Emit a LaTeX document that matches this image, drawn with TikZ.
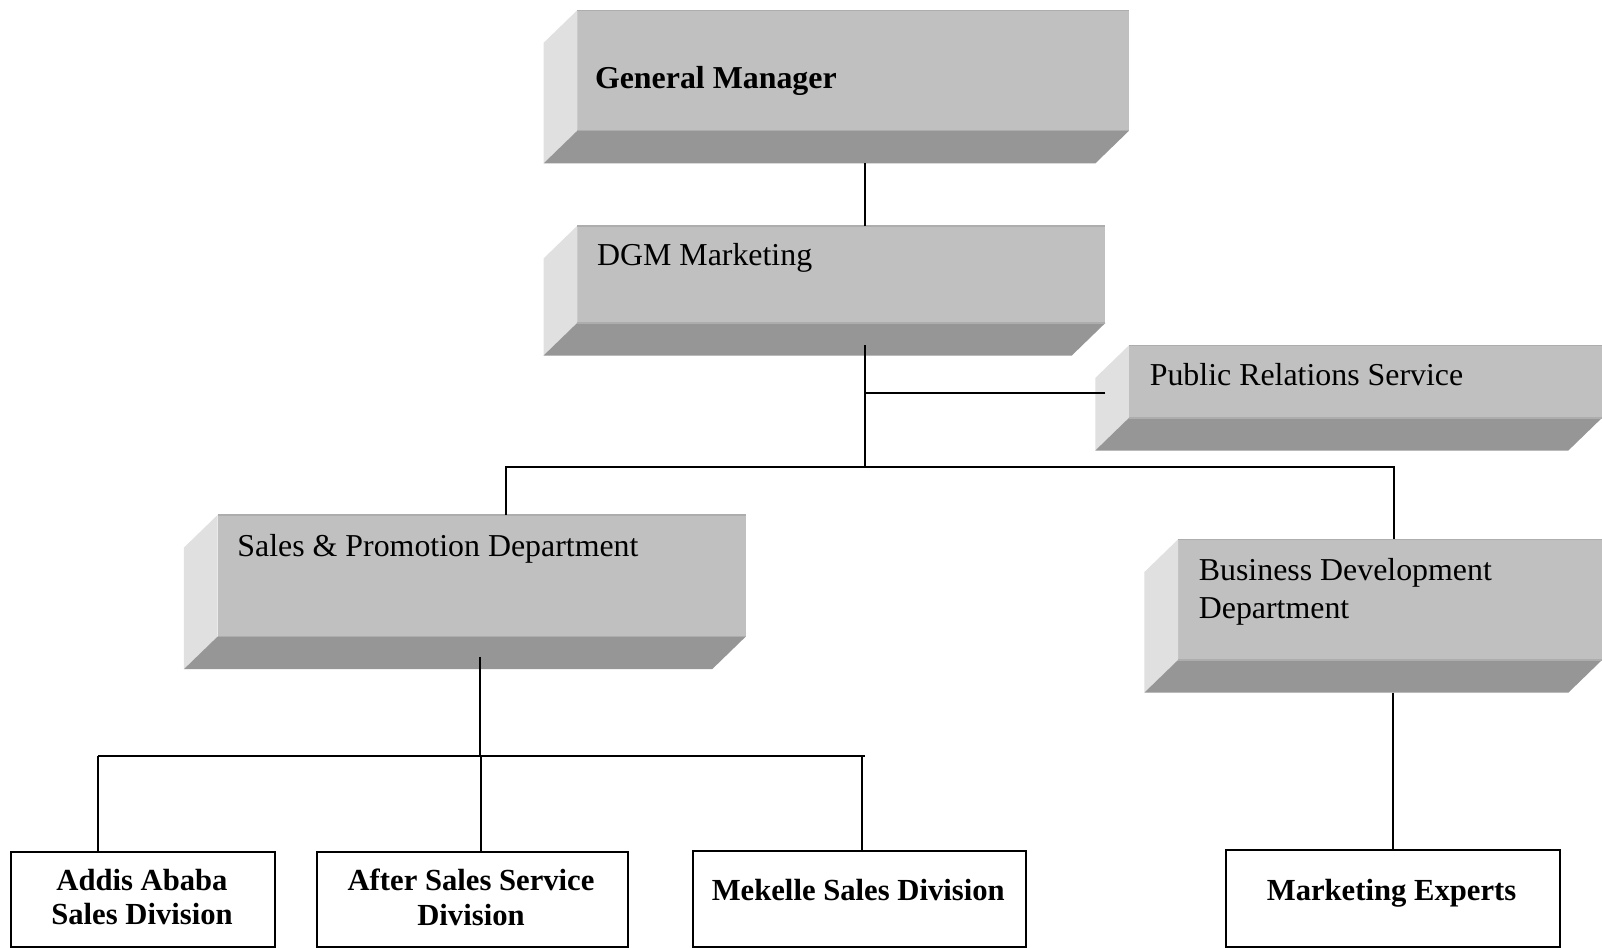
\documentclass[tikz,border=0pt]{standalone}
\usepackage{fontspec}
\setmainfont{Liberation Serif}
\usetikzlibrary{calc}

\definecolor{facefront}{HTML}{C0C0C0}
\definecolor{faceside}{HTML}{E0E0E0}
\definecolor{facebottom}{HTML}{969696}
\definecolor{faceedge}{HTML}{ADADAD}

\begin{document}
\begin{tikzpicture}[x=0.5pt,y=-0.5pt,
  % a bar drawn in relief: front face, light left face, dark bottom face
  prism/.style={shape=rectangle, inner sep=0pt, outer sep=0pt, anchor=north west,
    path picture={
      \coordinate (pNW) at (path picture bounding box.north west);
      \coordinate (pSE) at (path picture bounding box.south east);
      \coordinate (pSW) at (path picture bounding box.south west);
      \fill[facefront] ([xshift=16.5pt]pNW) rectangle ([yshift=16pt]pSE);
      \fill[faceside] ([xshift=16.5pt]pNW) -- ([xshift=16.5pt,yshift=16pt]pSW)
        -- (pSW) -- ([yshift=-16pt]pNW) -- cycle;
      \fill[facebottom] ([xshift=16.5pt,yshift=16pt]pSW) -- ([yshift=16pt]pSE)
        -- ([xshift=-16.5pt]pSE) -- (pSW) -- cycle;
      \draw[faceedge, line width=0.7pt] ([xshift=16.5pt]pNW) -- (pNW -| pSE);
      \draw[faceedge, line width=0.7pt] ([xshift=16.5pt,yshift=16pt]pSW) -- ([yshift=16pt]pSE);
    }},
  prismtext/.style={inner sep=0pt, anchor=base west,
    font=\fontsize{15.6pt}{18.5pt}\selectfont},
  unitbox/.style={draw=black, line width=1pt, fill=white, anchor=north west,
    inner sep=0pt},
  unittext/.style={inner sep=0pt, align=center,
    font=\fontsize{15pt}{17pt}\selectfont\bfseries},
  conn/.style={draw=black, line width=1pt}
]
\fill[white] (0,0) rectangle (1568,927);
\useasboundingbox (0,0) rectangle (1568,927);

% management bars
\node[prism, minimum width=286.5pt, minimum height=75pt]   (gm)  at (532,10)  {};
\node[prism, minimum width=275pt,   minimum height=63.5pt] (dgm) at (532,221) {};
\node[prism, minimum width=248pt,   minimum height=51.5pt] (pr)  at (1072,338) {};
\node[prism, minimum width=275pt,   minimum height=75.5pt] (sp)  at (180,504) {};
\node[prism, minimum width=224pt,   minimum height=75pt]   (bd)  at (1120,528) {};

\node[prismtext, font=\fontsize{15.6pt}{18.5pt}\selectfont\bfseries] (gmT) at (582,87) {General Manager};
\node[prismtext] (dgmT) at (584,260) {DGM Marketing};
\node[prismtext] (prT)  at (1125,377) {Public Relations Service};
\node[prismtext] (spT)  at (232,545) {Sales \& Promotion Department};
\node[prismtext, anchor=north west, align=left] (bdT) at (1173,546.5)
  {Business Development\\Department};

% division boxes
\node[unitbox, minimum width=129pt,   minimum height=46.5pt] (addis)      at (10,833)  {};
\node[unitbox, minimum width=152.5pt, minimum height=46.5pt] (aftersales) at (309,833) {};
\node[unitbox, minimum width=163pt,   minimum height=47pt]   (mekelle)    at (677,832) {};
\node[unitbox, minimum width=163.5pt, minimum height=47.5pt] (mktexp)     at (1199,831) {};

\node[unittext] (addisT)      at (139,878)  {Addis Ababa\\Sales Division};
\node[unittext] (aftersalesT) at (461,878)  {After Sales Service\\Division};
\node[unittext, anchor=base] (mekelleT) at (840,881)  {Mekelle Sales Division};
\node[unittext, anchor=base] (mktexpT)  at (1362,881) {Marketing Experts};

% routing points
\coordinate (trunk) at (847,0);
\coordinate (spx)   at (495,457);
\coordinate (bdx)   at (1364,457);
\coordinate (sbx)   at (470,740);
\coordinate (addx)  at (96,740);
\coordinate (aftx)  at (471,740);
\coordinate (mekx)  at (844,740);
\coordinate (barend) at (847,740);

% connectors
\draw[conn] (gm.south -| trunk) -- (dgm.north -| trunk);
\draw[conn] ($(dgm.south -| trunk)+(0,-10)$) -- (spx -| trunk);
\draw[conn] ($(pr.west)+(10,-4.5)$) -- ($(pr.west -| trunk)+(0,-4.5)$);
\draw[conn] (sp.north -| spx) -- (spx) -- (bdx) -- (bd.north -| bdx);
\draw[conn] ($(sp.south -| sbx)+(0,-12)$) -- (sbx);
\draw[conn] (addx) -- (barend);
\draw[conn] (addx) -- (addis.north -| addx);
\draw[conn] (aftx) -- (aftersales.north -| aftx);
\draw[conn] (mekx) -- (mekelle.north -| mekx);
\draw[conn] (bd.south -| mktexp.north) -- (mktexp.north);
\end{tikzpicture}
\end{document}
